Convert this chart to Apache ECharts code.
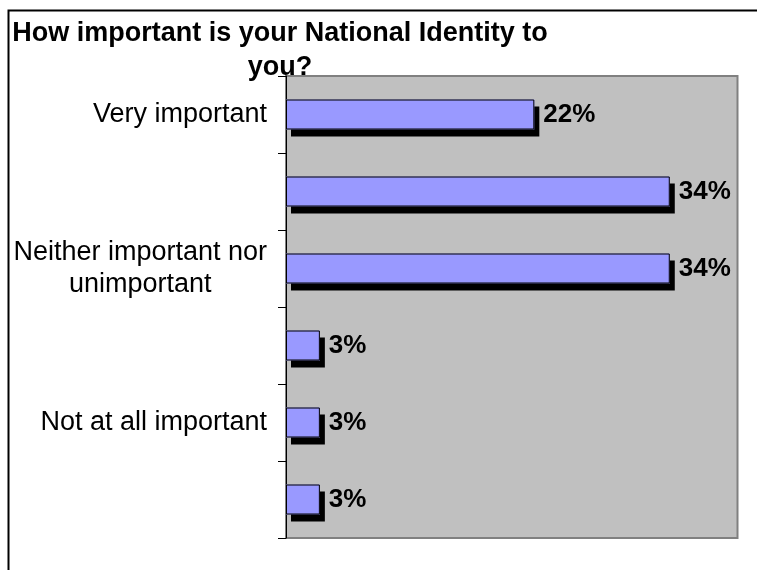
<!DOCTYPE html>
<html>
<head>
<meta charset="utf-8">
<script src="https://cdn.jsdelivr.net/npm/echarts@6/dist/echarts.min.js"></script>
<style>
  html, body { margin: 0; padding: 0; background: #fff; }
  #chart { width: 757px; height: 570px; }
</style>
</head>
<body>
<div id="chart"></div>
<script>
// Survey answers, top to bottom; only every other answer carries a visible label
const categories = ['Very important', '', 'Neither important nor unimportant', '', 'Not at all important', ''];
// Share of respondents (%)
const shares = [22, 34, 34, 3, 3, 3];
const titleText = 'How important is your National Identity to\nyou?';

const FONT = '"Liberation Sans", Arial, sans-serif';

const chart = echarts.init(document.getElementById('chart'), null, { renderer: 'canvas' });

chart.setOption({
  animation: false,
  backgroundColor: '#ffffff',
  title: {
    text: titleText,
    left: 280,
    top: 17,
    padding: 0,
    textAlign: 'center',
    textStyle: {
      fontFamily: FONT,
      fontSize: 27,
      fontWeight: 'bold',
      color: '#000',
      lineHeight: 34
    }
  },
  graphic: [{
    type: 'rect',
    left: 6,
    top: 8,
    shape: { width: 800, height: 620 },
    style: { fill: 'none', stroke: '#000', lineWidth: 2 },
    silent: true,
    z: 100
  }],
  grid: {
    left: 286,
    top: 76,
    right: 19.5,
    bottom: 32,
    show: true,
    backgroundColor: '#c0c0c0',
    borderColor: '#808080',
    borderWidth: 2
  },
  xAxis: {
    type: 'value',
    min: 0,
    max: 40,
    show: false,
    splitLine: { show: false }
  },
  yAxis: {
    type: 'category',
    inverse: true,
    data: categories,
    axisLine: { show: true, lineStyle: { color: '#000', width: 1 } },
    axisTick: { show: true, length: 8, lineStyle: { color: '#000', width: 1 } },
    axisLabel: {
      interval: 0,
      margin: 19,
      align: 'right',
      fontFamily: FONT,
      fontSize: 27,
      color: '#000',
      lineHeight: 32,
      formatter: function (v) {
        if (!v) return '';
        if (v.indexOf('nor ') > 0) {
          const cut = v.indexOf('nor ') + 3;
          return '{c|' + v.slice(0, cut) + '}\n{c|' + v.slice(cut + 1) + '}';
        }
        return v;
      },
      rich: {
        c: { align: 'center', fontFamily: FONT, fontSize: 27, color: '#000', lineHeight: 32 }
      }
    }
  },
  series: [{
    // filled bar casting the drop shadow
    type: 'bar',
    data: shares,
    barWidth: 30,
    itemStyle: {
      color: '#9999ff',
      borderWidth: 0,
      shadowColor: '#000',
      shadowBlur: 0,
      shadowOffsetX: 5,
      shadowOffsetY: 7
    },
    label: {
      show: true,
      position: 'right',
      distance: 9,
      formatter: '{c}%',
      fontFamily: FONT,
      fontSize: 26,
      fontWeight: 'bold',
      color: '#000'
    },
    z: 2
  }, {
    // black outline drawn over the same bars
    type: 'bar',
    data: shares,
    barWidth: 30,
    barGap: '-100%',
    itemStyle: {
      color: 'rgba(0,0,0,0)',
      borderColor: '#000',
      borderWidth: 1
    },
    silent: true,
    z: 3
  }]
});
</script>
</body>
</html>
